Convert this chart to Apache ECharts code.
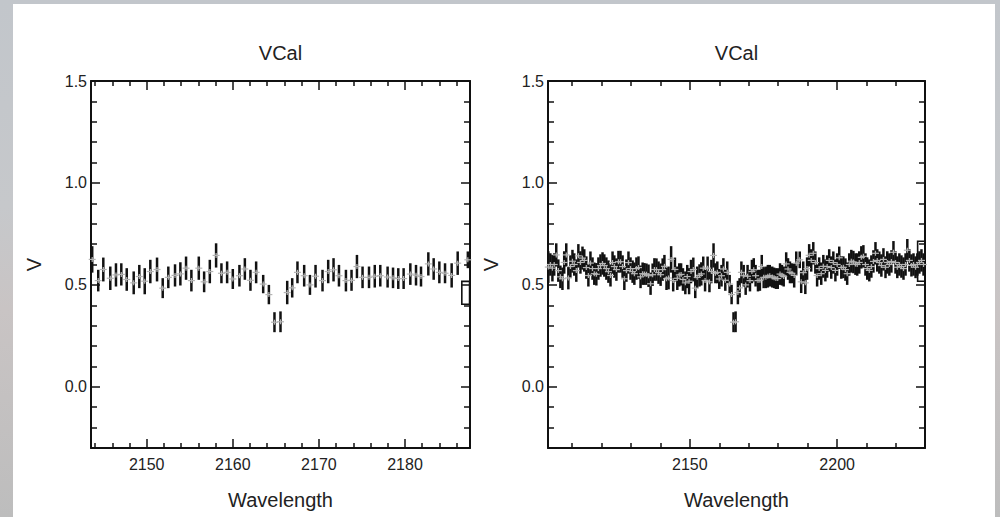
<!DOCTYPE html>
<html><head><meta charset="utf-8">
<script src="https://cdn.jsdelivr.net/npm/echarts@6/dist/echarts.min.js"></script>
<style>
html,body{margin:0;padding:0;width:1000px;height:517px;overflow:hidden;}
body{background:linear-gradient(to bottom,#c2c6cb 0%,#c6c8cb 40%,#c9c4c4 60%,#bdbdbd 100%);}
#panel{position:absolute;left:13px;top:4px;width:982px;height:513px;background:#fff;}
#chart{position:absolute;left:0;top:0;width:1000px;height:517px;}
</style></head><body><div id="panel"></div><div id="chart"></div>
<script>
// ---- data ----
const leftWave = [2143.67, 2144.37, 2144.96, 2145.77, 2146.43, 2147.05, 2147.68, 2148.49, 2149.14, 2149.77,
  2150.42, 2151.2, 2151.86, 2152.51, 2153.29, 2153.91, 2154.57, 2155.19, 2156.05, 2156.67,
  2157.33, 2158.06, 2158.68, 2159.34, 2160.0, 2160.77, 2161.4, 2162.05, 2162.71, 2163.53,
  2164.19, 2164.84, 2165.54, 2166.32, 2166.9, 2167.51, 2168.29, 2168.96, 2169.61, 2170.42,
  2171.08, 2171.7, 2172.33, 2173.14, 2173.79, 2174.42, 2175.07, 2175.82, 2176.49, 2177.13,
  2177.98, 2178.61, 2179.22, 2179.84, 2180.62, 2181.28, 2181.86, 2182.71, 2183.33, 2183.99,
  2184.65, 2185.42, 2186.12, 2187.3];
const leftLow = [0.56, 0.468, 0.517, 0.475, 0.492, 0.497, 0.471, 0.454, 0.484, 0.454,
  0.508, 0.517, 0.435, 0.484, 0.492, 0.497, 0.525, 0.468, 0.525, 0.464,
  0.508, 0.585, 0.508, 0.508, 0.480, 0.492, 0.525, 0.471, 0.508, 0.459,
  0.405, 0.268, 0.268, 0.405, 0.438, 0.508, 0.492, 0.451, 0.487, 0.468,
  0.508, 0.517, 0.492, 0.468, 0.471, 0.533, 0.484, 0.484, 0.487, 0.492,
  0.487, 0.484, 0.480, 0.480, 0.500, 0.497, 0.492, 0.546, 0.525, 0.508,
  0.508, 0.487, 0.549, 0.582];
const leftHigh = [0.69, 0.574, 0.634, 0.590, 0.606, 0.606, 0.582, 0.566, 0.598, 0.582,
  0.623, 0.634, 0.533, 0.590, 0.601, 0.611, 0.639, 0.574, 0.639, 0.566,
  0.623, 0.704, 0.606, 0.615, 0.578, 0.598, 0.631, 0.574, 0.615, 0.549,
  0.500, 0.366, 0.370, 0.520, 0.533, 0.615, 0.598, 0.549, 0.598, 0.574,
  0.623, 0.631, 0.598, 0.574, 0.574, 0.647, 0.590, 0.590, 0.598, 0.598,
  0.590, 0.585, 0.582, 0.582, 0.606, 0.598, 0.590, 0.660, 0.631, 0.615,
  0.606, 0.606, 0.664, 0.664];

// right panel: extra spectrum blue-ward (A) and red-ward (B) of the left window
const rightWaveA = [2102.0, 2102.7, 2103.4, 2104.0, 2104.7, 2105.4, 2106.1, 2106.8, 2107.4, 2108.1,
  2108.8, 2109.5, 2110.2, 2110.8, 2111.5, 2112.2, 2112.9, 2113.6, 2114.2, 2114.9,
  2115.6, 2116.3, 2117.0, 2117.6, 2118.3, 2119.0, 2119.7, 2120.4, 2121.0, 2121.7,
  2122.4, 2123.1, 2123.8, 2124.4, 2125.1, 2125.8, 2126.5, 2127.2, 2127.8, 2128.5,
  2129.2, 2129.9, 2130.6, 2131.2, 2131.9, 2132.6, 2133.3, 2134.0, 2134.6, 2135.3,
  2136.0, 2136.7, 2137.4, 2138.0, 2138.7, 2139.4, 2140.1, 2140.8, 2141.4, 2142.1, 2142.8];
const rightLowA = [0.51, 0.545, 0.517, 0.545, 0.59, 0.515, 0.484, 0.475, 0.555, 0.59,
  0.478, 0.535, 0.56, 0.545, 0.515, 0.585, 0.555, 0.575, 0.565, 0.53,
  0.492, 0.55, 0.525, 0.50, 0.497, 0.525, 0.54, 0.55, 0.54, 0.525,
  0.51, 0.492, 0.555, 0.535, 0.52, 0.56, 0.56, 0.535, 0.475, 0.515,
  0.555, 0.525, 0.51, 0.50, 0.525, 0.53, 0.484, 0.50, 0.50, 0.50,
  0.49, 0.451, 0.495, 0.52, 0.52, 0.505, 0.495, 0.52, 0.535, 0.475, 0.478];
const rightHighA = [0.665, 0.655, 0.647, 0.655, 0.704, 0.625, 0.595, 0.585, 0.665, 0.704,
  0.59, 0.645, 0.672, 0.655, 0.625, 0.70, 0.665, 0.688, 0.675, 0.64,
  0.60, 0.664, 0.635, 0.61, 0.607, 0.635, 0.65, 0.66, 0.65, 0.635,
  0.62, 0.60, 0.664, 0.645, 0.63, 0.667, 0.667, 0.645, 0.585, 0.625,
  0.664, 0.635, 0.62, 0.61, 0.635, 0.64, 0.595, 0.61, 0.607, 0.605,
  0.60, 0.56, 0.605, 0.631, 0.63, 0.615, 0.605, 0.63, 0.647, 0.585, 0.59];
const rightWaveB = [2187.8, 2188.5, 2189.2, 2189.8, 2190.5, 2191.2, 2191.9, 2192.6, 2193.2, 2193.9,
  2194.6, 2195.3, 2196.0, 2196.6, 2197.3, 2198.0, 2198.7, 2199.4, 2200.0, 2200.7,
  2201.4, 2202.1, 2202.8, 2203.4, 2204.1, 2204.8, 2205.5, 2206.2, 2206.8, 2207.5,
  2208.2, 2208.9, 2209.6, 2210.2, 2210.9, 2211.6, 2212.3, 2213.0, 2213.6, 2214.3,
  2215.0, 2215.7, 2216.4, 2217.0, 2217.7, 2218.4, 2219.1, 2219.8, 2220.4, 2221.1,
  2221.8, 2222.5, 2223.2, 2223.8, 2224.5, 2225.2, 2225.9, 2226.6, 2227.2, 2227.9, 2228.6, 2229.3];
const rightLowB = [0.46, 0.505, 0.455, 0.525, 0.59, 0.565, 0.60, 0.555, 0.492, 0.525,
  0.50, 0.535, 0.517, 0.535, 0.565, 0.53, 0.555, 0.517, 0.545, 0.578,
  0.53, 0.533, 0.52, 0.50, 0.545, 0.56, 0.557, 0.549, 0.545, 0.555,
  0.58, 0.585, 0.545, 0.525, 0.517, 0.535, 0.56, 0.60, 0.565, 0.555,
  0.54, 0.57, 0.533, 0.555, 0.545, 0.56, 0.605, 0.555, 0.533, 0.545,
  0.535, 0.525, 0.545, 0.615, 0.565, 0.541, 0.545, 0.533, 0.545, 0.555, 0.565, 0.545];
const rightHighB = [0.57, 0.615, 0.565, 0.635, 0.70, 0.675, 0.71, 0.664, 0.60, 0.635,
  0.61, 0.647, 0.625, 0.645, 0.675, 0.64, 0.664, 0.625, 0.655, 0.688,
  0.64, 0.64, 0.63, 0.61, 0.655, 0.672, 0.667, 0.655, 0.655, 0.665,
  0.69, 0.695, 0.655, 0.635, 0.625, 0.645, 0.67, 0.71, 0.675, 0.664,
  0.65, 0.68, 0.64, 0.665, 0.655, 0.67, 0.715, 0.665, 0.64, 0.655,
  0.645, 0.635, 0.655, 0.725, 0.675, 0.65, 0.655, 0.64, 0.655, 0.665, 0.675, 0.655];

// edge boxes [x0, x1, low, high]
const leftBox = [2186.6, 2187.5, 0.405, 0.517];
const rightBox = [2227.3, 2229.8, 0.518, 0.714];

const yTicks = [0.0, 0.5, 1.0, 1.5];
const titles = ['VCal', 'VCal'];

// ---- build ----
function rows(w, lo, hi) { return w.map((x, i) => [x, lo[i], hi[i]]); }
const leftData = rows(leftWave, leftLow, leftHigh);
const rightData = rows(rightWaveA, rightLowA, rightHighA)
  .concat(leftData)
  .concat(rows(rightWaveB, rightLowB, rightHighB));

const FONT = '"Liberation Sans", Arial, Helvetica, sans-serif';
const INK = '#111';
const TXT = '#222';

function barItem(params, api) {
  const x = api.value(0), lo = api.value(1), hi = api.value(2);
  const a = api.coord([x, lo]), b = api.coord([x, hi]);
  return { type: 'line', shape: { x1: a[0], y1: a[1], x2: b[0], y2: b[1] },
    style: { stroke: INK, lineWidth: 2.5 } };
}
function crossItem(params, api) {
  const x = api.value(0), c = (api.value(1) + api.value(2)) / 2;
  const p = api.coord([x, c]);
  return { type: 'group', children: [
    { type: 'line', shape: { x1: p[0] - 3.5, y1: p[1], x2: p[0] + 3.5, y2: p[1] }, style: { stroke: '#b4b4b4', lineWidth: 1.2 } },
    { type: 'line', shape: { x1: p[0], y1: p[1] - 2.5, x2: p[0], y2: p[1] + 2.5 }, style: { stroke: '#b4b4b4', lineWidth: 1.2 } }
  ] };
}
function boxItem(params, api) {
  const a = api.coord([api.value(0), api.value(3)]);
  const b = api.coord([api.value(1), api.value(2)]);
  return { type: 'rect', shape: { x: a[0], y: a[1], width: b[0] - a[0], height: b[1] - a[1] },
    style: { fill: 'none', stroke: INK, lineWidth: 1.6 } };
}

const lineStyle = { color: INK, width: 2 };
function xAx(gi, min, max, iv, main) {
  return {
    type: 'value', gridIndex: gi, position: main ? 'bottom' : 'top', min, max,
    minInterval: iv, maxInterval: iv, splitNumber: 5,
    axisLine: { show: true, onZero: false, lineStyle },
    axisTick: { show: true, inside: true, length: 9, lineStyle: { color: INK, width: 1.5 } },
    minorTick: { show: true, splitNumber: 5, length: 5, lineStyle: { color: INK, width: 1.5 } },
    splitLine: { show: false }, minorSplitLine: { show: false },
    axisLabel: main ? { show: true, margin: 8, color: TXT, fontSize: 16, fontFamily: FONT,
      showMinLabel: false, showMaxLabel: false, formatter: v => String(Math.round(v)) } : { show: false },
    name: main ? 'Wavelength' : '', nameLocation: 'middle', nameGap: 42,
    nameTextStyle: { fontSize: 20, color: TXT, fontFamily: FONT }
  };
}
function yAx(gi, main) {
  return {
    type: 'value', gridIndex: gi, position: main ? 'left' : 'right', min: -0.3, max: 1.5,
    minInterval: 0.5, maxInterval: 0.5, splitNumber: 5,
    axisLine: { show: true, onZero: false, lineStyle },
    axisTick: { show: true, inside: true, length: 9, lineStyle: { color: INK, width: 1.5 } },
    minorTick: { show: true, splitNumber: 5, length: 6, lineStyle: { color: INK, width: 1.5 } },
    splitLine: { show: false }, minorSplitLine: { show: false },
    axisLabel: main ? { show: true, margin: 4, color: TXT, fontSize: 16, fontFamily: FONT,
      showMinLabel: false, formatter: v => (yTicks.some(t => Math.abs(t - v) < 1e-9) ? v.toFixed(1) : '') } : { show: false },
    name: main ? 'V' : '', nameLocation: 'middle', nameGap: 47, nameRotate: 90,
    nameTextStyle: { fontSize: 20, color: TXT, fontFamily: FONT }
  };
}

const chart = echarts.init(document.getElementById('chart'), null, { renderer: 'svg' });
chart.setOption({
  animation: false,
  backgroundColor: 'transparent',
  grid: [
    { left: 91, top: 81, width: 379, height: 367 },
    { left: 548, top: 81, width: 377, height: 367 }
  ],
  xAxis: [xAx(0, 2143.53, 2187.55, 10, true), xAx(0, 2143.53, 2187.55, 10, false),
          xAx(1, 2101.9, 2229.8, 50, true), xAx(1, 2101.9, 2229.8, 50, false)],
  yAxis: [yAx(0, true), yAx(0, false), yAx(1, true), yAx(1, false)],
  graphic: [
    { type: 'text', x: 280.5, y: 53, style: { text: titles[0], fontSize: 20, fontFamily: FONT, fill: TXT, align: 'center', verticalAlign: 'middle' } },
    { type: 'text', x: 736.5, y: 53, style: { text: titles[1], fontSize: 20, fontFamily: FONT, fill: TXT, align: 'center', verticalAlign: 'middle' } }
  ],
  series: [
    { type: 'custom', xAxisIndex: 0, yAxisIndex: 0, renderItem: barItem, data: leftData, encode: { x: 0, y: [1, 2] }, z: 3 },
    { type: 'custom', xAxisIndex: 0, yAxisIndex: 0, renderItem: crossItem, data: leftData, encode: { x: 0, y: [1, 2] }, z: 4 },
    { type: 'custom', xAxisIndex: 0, yAxisIndex: 0, renderItem: boxItem, data: [leftBox], encode: { x: [0, 1], y: [2, 3] }, z: 3 },
    { type: 'custom', xAxisIndex: 2, yAxisIndex: 2, renderItem: barItem, data: rightData, encode: { x: 0, y: [1, 2] }, z: 3 },
    { type: 'custom', xAxisIndex: 2, yAxisIndex: 2, renderItem: crossItem, data: rightData, encode: { x: 0, y: [1, 2] }, z: 4 },
    { type: 'custom', xAxisIndex: 2, yAxisIndex: 2, renderItem: boxItem, data: [rightBox], encode: { x: [0, 1], y: [2, 3] }, z: 3 }
  ]
});
</script></body></html>
